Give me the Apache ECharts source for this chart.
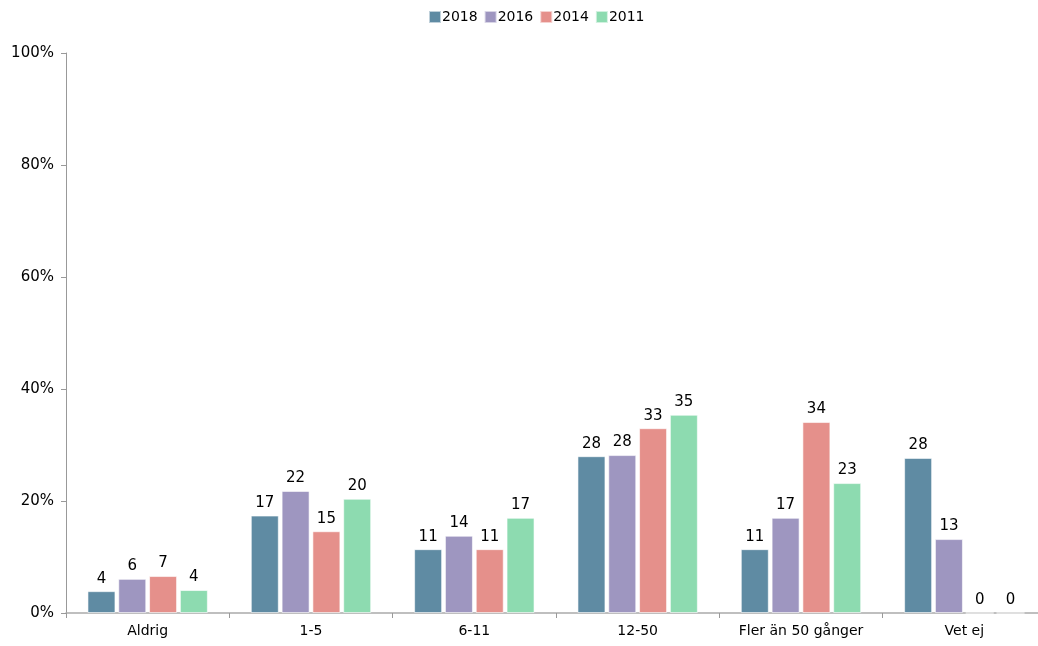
<!DOCTYPE html>
<html>
<head>
<meta charset="utf-8">
<script src="https://cdn.jsdelivr.net/npm/echarts@6/dist/echarts.min.js"></script>
<style>
  html, body { margin: 0; padding: 0; background: #fff; }
  #main { width: 1038px; height: 646px; }
</style>
</head>
<body>
<div id="main"></div>
<script>
const categories = ["Aldrig", "1-5", "6-11", "12-50", "Fler än 50 gånger", "Vet ej"];
const years = ["2018", "2016", "2014", "2011"];
const v2018 = [3.9, 17.4, 11.4, 28.0, 11.4, 27.7];
const v2016 = [6.1, 21.8, 13.8, 28.2, 17.0, 13.2];
const v2014 = [6.6, 14.6, 11.4, 33.0, 34.1, 0];
const v2011 = [4.1, 20.4, 17.0, 35.4, 23.2, 0];
const yTicks = [0, 20, 40, 60, 80, 100];
const colors = ["#5f8ba3", "#9e96c0", "#e5908b", "#8ddbb0"];

const font = "Tahoma, 'DejaVu Sans', sans-serif";
const chart = echarts.init(document.getElementById("main"));

function makeSeries(name, data, i) {
  return {
    name: name,
    type: "bar",
    data: data,
    barWidth: 28,
    barGap: "10%",
    itemStyle: { color: colors[i], borderColor: "rgba(255,255,255,0.6)", borderWidth: 1 },
    label: {
      show: true,
      position: "top",
      distance: 5,
      color: "#000",
      fontSize: 15,
      fontFamily: font,
      formatter: (p) => Math.round(p.value)
    }
  };
}

const option = {
  animation: false,
  color: colors,
  legend: {
    top: 5,
    left: 423,
    itemWidth: 12,
    itemHeight: 12,
    itemGap: 6,
    icon: "rect",
    textStyle: { fontSize: 14, fontFamily: font, color: "#000", padding: [0, 0, 0, -4] },
    data: years
  },
  grid: { left: 66, right: -8, top: 53, bottom: 33, outerBoundsMode: "none" },
  xAxis: {
    type: "category",
    data: categories,
    axisLine: { lineStyle: { color: "#aaa", width: 1.5 } },
    axisTick: { show: true, length: 5, lineStyle: { color: "#999" } },
    axisLabel: { fontSize: 14, fontFamily: font, color: "#000", margin: 11 }
  },
  yAxis: {
    type: "value",
    min: 0,
    max: 100,
    interval: 20,
    axisLine: { show: true, lineStyle: { color: "#999" } },
    axisTick: { show: true, length: 5, lineStyle: { color: "#999" } },
    splitLine: { show: false },
    axisLabel: {
      fontSize: 15,
      fontFamily: font,
      color: "#000",
      margin: 12,
      formatter: (v) => yTicks.indexOf(v) >= 0 ? v + "%" : ""
    }
  },
  series: [
    makeSeries(years[0], v2018, 0),
    makeSeries(years[1], v2016, 1),
    makeSeries(years[2], v2014, 2),
    makeSeries(years[3], v2011, 3)
  ]
};
chart.setOption(option);
</script>
</body>
</html>
